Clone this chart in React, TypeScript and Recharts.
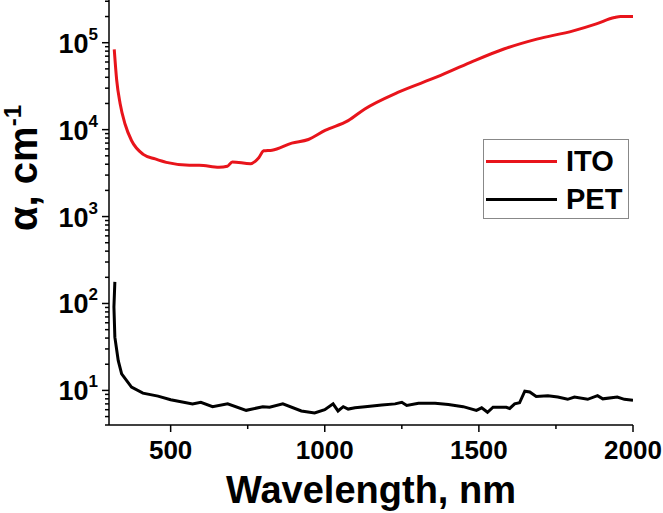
import React from 'react';
import { LineChart, Line, XAxis, YAxis, Legend } from 'recharts';

// ITO film absorption coefficient (cm^-1) vs wavelength (nm)
const itoWavelength = [317, 325, 336, 352, 373, 411, 450, 486, 561, 593, 657, 684, 700, 759, 786, 802, 829, 893, 947, 1001, 1076, 1130, 1237, 1366, 1473, 1581, 1688, 1806, 1881, 1940, 1960, 2000];
const itoAlpha = [84000, 37000, 20000, 11600, 7500, 5200, 4600, 4200, 3900, 3900, 3690, 3790, 4250, 4050, 4760, 5700, 5800, 7000, 7700, 9800, 12700, 17300, 26800, 40600, 59400, 84600, 110000, 137000, 165000, 195000, 200000, 200000];

// PET substrate
const petWavelength = [319, 316, 319, 330, 341, 373, 410, 459, 500, 571, 598, 636, 685, 745, 799, 821, 864, 924, 967, 1000, 1027, 1043, 1060, 1076, 1098, 1131, 1185, 1228, 1250, 1266, 1304, 1358, 1401, 1449, 1492, 1509, 1528, 1546, 1589, 1600, 1616, 1632, 1649, 1665, 1686, 1724, 1756, 1788, 1810, 1853, 1885, 1902, 1949, 1972, 2000];
const petAlpha = [177, 91, 41, 22, 15.5, 10.9, 9.3, 8.6, 7.8, 7.0, 7.3, 6.5, 7.0, 5.9, 6.5, 6.4, 7.0, 5.8, 5.5, 6.0, 7.0, 5.8, 6.5, 6.1, 6.3, 6.5, 6.8, 7.0, 7.3, 6.7, 7.1, 7.1, 6.9, 6.5, 5.9, 6.3, 5.6, 6.4, 6.4, 6.2, 7.0, 7.2, 9.8, 9.6, 8.5, 8.7, 8.4, 7.9, 8.4, 7.9, 8.7, 8.0, 8.4, 7.9, 7.7];

const xTicks = [500, 750, 1000, 1250, 1500, 1750, 2000];
const xDomain = [300, 2000];
const yDomain = [4, 310000];

const ito = itoWavelength.map((wl, i) => ({ wl, alpha: itoAlpha[i] }));
const pet = petWavelength.map((wl, i) => ({ wl, alpha: petAlpha[i] }));

// log axis ticks: 1..9 x each decade inside the domain
const yTicks: number[] = [];
[1, 10, 100, 1000, 10000, 100000].forEach((d) => {
  for (let m = 1; m <= 9; m++) {
    const v = m * d;
    if (v >= yDomain[0] && v <= yDomain[1]) yTicks.push(v);
  }
});

const FONT = '"Liberation Sans", Arial, sans-serif';

const YTick = (props: any) => {
  const { x, y, payload } = props;
  const v = payload.value;
  const exp = Math.round(Math.log10(v));
  const major = Math.abs(v - Math.pow(10, exp)) < 1e-6 * v;
  return (
    <g>
      <line x1={x - (major ? 7 : 4)} x2={x} y1={y} y2={y} stroke="#000" strokeWidth={1.5} />
      {major && (
        <text x={x - 11} y={y + 10} textAnchor="end" fontSize={27} fontWeight="bold" fill="#000" fontFamily={FONT}>
          10<tspan dy={-13} fontSize={17}>{exp}</tspan>
        </text>
      )}
    </g>
  );
};

const XTick = (props: any) => {
  const { x, y, payload } = props;
  const major = payload.value % 500 === 0;
  return (
    <g>
      <line x1={x} x2={x} y1={y} y2={y + (major ? 7 : 4)} stroke="#000" strokeWidth={1.5} />
      {major && (
        <text x={x} y={y + 34} textAnchor="middle" fontSize={26} fontWeight="bold" fill="#000" fontFamily={FONT}>
          {payload.value}
        </text>
      )}
    </g>
  );
};

const renderLegend = (props: any) => {
  const { payload } = props;
  return (
    <div
      style={{
        width: 146,
        height: 80,
        border: '1.5px solid #888',
        boxSizing: 'border-box',
        position: 'relative',
        background: '#fff',
      }}
    >
      {payload.map((entry: any, i: number) => (
        <div
          key={entry.value}
          style={{
            position: 'absolute',
            left: 2,
            top: 2 + i * 38,
            height: 38,
            display: 'flex',
            alignItems: 'center',
          }}
        >
          <div style={{ width: 71, height: 3, background: entry.color }} />
          <span style={{ marginLeft: 9, fontSize: 29, fontWeight: 'bold', fontFamily: FONT, color: '#000' }}>
            {entry.value}
          </span>
        </div>
      ))}
    </div>
  );
};

export default function App() {
  return (
    <div style={{ position: 'absolute', left: 0, top: 0, width: 663, height: 513, background: '#fff' }}>
      <LineChart width={663} height={513} margin={{ top: 0, right: 30, bottom: 0, left: 0 }}>
        <XAxis
          dataKey="wl"
          type="number"
          domain={xDomain}
          ticks={xTicks}
          interval={0}
          allowDataOverflow
          height={88}
          tickSize={0}
          tickMargin={0}
          tick={<XTick />}
          axisLine={{ stroke: '#000', strokeWidth: 1.5 }}
        />
        <YAxis
          dataKey="alpha"
          scale="log"
          domain={yDomain}
          ticks={yTicks}
          interval={0}
          allowDataOverflow
          width={109}
          tickSize={0}
          tickMargin={0}
          tick={<YTick />}
          axisLine={{ stroke: '#000', strokeWidth: 1.5 }}
        />
        <Line
          data={ito}
          dataKey="alpha"
          name="ITO"
          type="monotone"
          stroke="#e8141b"
          strokeWidth={3}
          dot={false}
          isAnimationActive={false}
        />
        <Line
          data={pet}
          dataKey="alpha"
          name="PET"
          type="linear"
          stroke="#000"
          strokeWidth={3}
          dot={false}
          isAnimationActive={false}
        />
        <Legend
          layout="vertical"
          align="center"
          verticalAlign="middle"
          content={renderLegend}
          wrapperStyle={{ left: 483, top: 139, width: 146, height: 80 }}
        />
      </LineChart>
      <svg width={663} height={513} style={{ position: 'absolute', left: 0, top: 0, pointerEvents: 'none' }}>
        <text
          transform="translate(37,168) rotate(-90)"
          textAnchor="middle"
          fontSize={40}
          fontWeight="bold"
          fontFamily={FONT}
          fill="#000"
        >
          α, cm<tspan dy={-16} fontSize={24}>-1</tspan>
        </text>
        <text x={371} y={503} textAnchor="middle" fontSize={38} fontWeight="bold" fontFamily={FONT} fill="#000">
          Wavelength, nm
        </text>
      </svg>
    </div>
  );
}
